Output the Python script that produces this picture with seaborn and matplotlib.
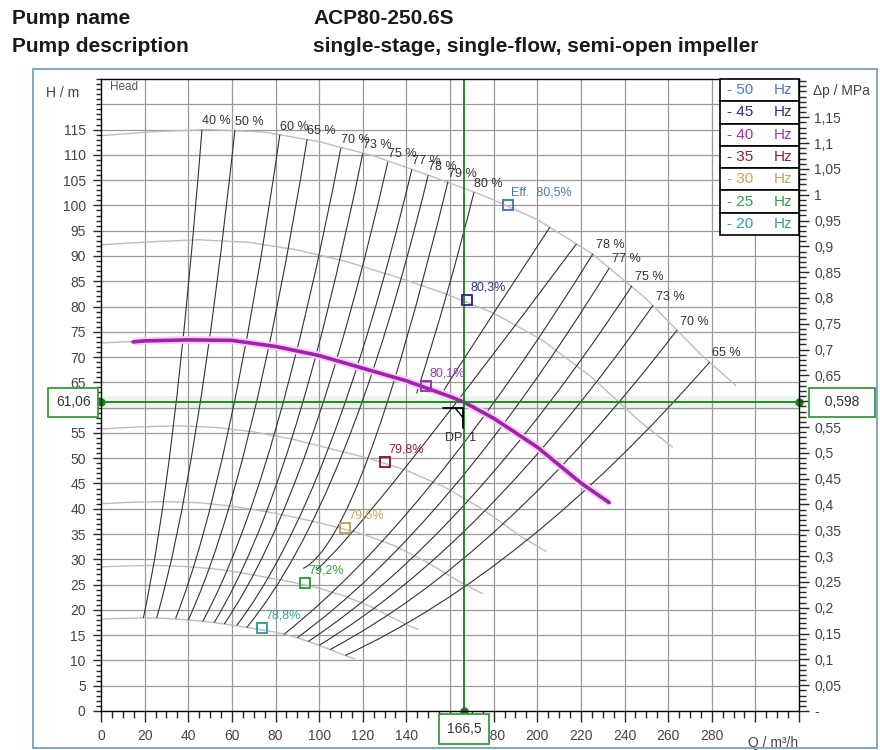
import numpy as np
import matplotlib
matplotlib.use("Agg")
import matplotlib.pyplot as plt
import seaborn as sns
from matplotlib.ticker import FixedLocator, MultipleLocator
from matplotlib.patches import Rectangle, PathPatch
from matplotlib.path import Path

sns.set_theme(style="white")
plt.rcParams["font.family"] = ["Liberation Sans", "DejaVu Sans"]

# ---------------- data ----------------
pump_name = "ACP80-250.6S"
pump_description = "single-stage, single-flow, semi-open impeller"

freq_labels = ["50", "45", "40", "35", "30", "25", "20"]
freq_colors = ["#4f7bb5", "#30308c", "#9638aa", "#8e2035", "#c2a458", "#33a044", "#33a09a"]

# H(Q) curves per frequency (Q in m3/h, H in m)
q_50 = [0, 25, 50, 75, 100, 125, 150, 175, 200, 225, 250, 275, 291]
h_50 = [113.8, 114.6, 115.0, 114.5, 112.6, 109.8, 106.0, 102.0, 97.2, 90.5, 81.5, 70.5, 64.4]
q_45 = [0, 22.5, 45, 67.5, 90, 112.5, 135, 157.5, 180, 202.5, 225, 247.5, 262]
h_45 = [92.2, 92.8, 93.2, 92.7, 91.2, 88.9, 85.9, 82.6, 78.7, 73.3, 66.0, 57.1, 52.2]
q_40 = [0, 20, 40, 60, 80, 100, 120, 140, 160, 180, 200, 220, 233]
h_40 = [72.8, 73.2, 73.4, 73.3, 72.1, 70.3, 67.8, 65.3, 62.2, 57.9, 52.2, 45.1, 41.2]
q_35 = [0, 17.5, 35, 52.5, 70, 87.5, 105, 122.5, 140, 157.5, 175, 192.5, 204]
h_35 = [55.8, 56.2, 56.4, 56.1, 55.2, 53.8, 51.9, 50.0, 47.6, 44.3, 39.9, 34.5, 31.6]
q_30 = [0, 15, 30, 45, 60, 75, 90, 105, 120, 135, 150, 165, 175]
h_30 = [41.0, 41.3, 41.4, 41.2, 40.5, 39.5, 38.2, 36.7, 35.0, 32.6, 29.3, 25.4, 23.2]
q_25 = [0, 12.5, 25, 37.5, 50, 62.5, 75, 87.5, 100, 112.5, 125, 137.5, 145.5]
h_25 = [28.5, 28.7, 28.8, 28.6, 28.2, 27.5, 26.5, 25.5, 24.3, 22.6, 20.4, 17.6, 16.1]
q_20 = [0, 10, 20, 30, 40, 50, 60, 70, 80, 90, 100, 110, 116.4]
h_20 = [18.2, 18.3, 18.4, 18.3, 18.0, 17.6, 17.0, 16.3, 15.6, 14.5, 13.0, 11.3, 10.3]

# operating (highlighted) curve
op_curve_q = [14.7, 20, 40, 60, 80, 100, 120, 140, 160, 166.5, 180, 200, 220, 233]
op_curve_h = [73.0, 73.2, 73.4, 73.3, 72.1, 70.3, 67.8, 65.3, 62.2, 61.06, 57.9, 52.2, 45.1, 41.2]

# best efficiency points per frequency
bep_q = [186.5, 167.7, 149.0, 130.0, 111.8, 93.5, 73.9]
bep_h = [100.0, 81.2, 64.2, 49.3, 36.2, 25.3, 16.4]
bep_labels = ["Eff.  80,5%", "80,3%", "80,1%", "79,8%", "79,6%", "79,2%", "78,8%"]

# iso-efficiency lines, left branch (top, middle, bottom)
iso_left_labels = ["40 %", "50 %", "60 %", "65 %", "70 %", "73 %", "75 %", "77 %", "78 %", "79 %", "80 %"]
iso_left_q = [[46.3, 33.2, 19.4], [61.4, 43.8, 25.5], [82.0, 58.6, 34.2], [94.5, 68.1, 40.0],
              [110.0, 79.3, 46.6], [120.0, 87.4, 51.9], [131.5, 95.5, 56.5], [142.5, 104.3, 62.2],
              [150.0, 111.0, 66.8], [159.0, 122.4, 92.7], [171.0, 158.5, 144.7]]
iso_left_h = [[115.0, 56.4, 18.4], [114.9, 56.3, 18.4], [114.0, 55.8, 18.3], [113.1, 55.3, 18.0],
              [111.4, 54.5, 17.7], [110.3, 53.8, 17.5], [108.6, 52.9, 17.2], [107.1, 52.0, 16.9],
              [106.0, 51.2, 16.5], [104.6, 50.0, 28.2], [102.6, 82.4, 62.8]]
# iso-efficiency lines, right branch (top, middle, bottom)
iso_right_labels = ["", "", "78 %", "77 %", "75 %", "73 %", "70 %", "65 %"]
iso_right_q = [[205.8, 166.0, 156.5], [218.0, 138.9, 99.0], [225.5, 152.3, 84.0], [233.0, 160.3, 90.0],
               [243.4, 168.3, 95.0], [253.0, 176.0, 100.0], [264.0, 184.3, 105.0], [279.0, 195.3, 112.0]]
iso_right_h = [[95.7, 69.4, 62.8], [92.4, 47.8, 28.0], [90.4, 45.3, 15.2], [87.6, 43.6, 14.5],
               [84.1, 41.6, 13.75], [80.2, 39.6, 13.0], [75.3, 37.0, 12.15], [69.0, 33.8, 11.0]]

# operating point
op_q = 166.5
op_h = 61.06
op_dp = 0.598

x_ticks = [0, 20, 40, 60, 80, 100, 120, 140, 160, 180, 200, 220, 240, 260, 280]
y_ticks = [0, 5, 10, 15, 20, 25, 30, 35, 40, 45, 50, 55, 60, 65, 70, 75, 80, 85, 90, 95, 100, 105, 110, 115]
dp_ticks = [0.05, 0.1, 0.15, 0.2, 0.25, 0.3, 0.35, 0.4, 0.45, 0.5, 0.55, 0.6, 0.65, 0.7, 0.75,
            0.8, 0.85, 0.9, 0.95, 1.0, 1.05, 1.1, 1.15]

curves_q = [q_50, q_45, q_40, q_35, q_30, q_25, q_20]
curves_h = [h_50, h_45, h_40, h_35, h_30, h_25, h_20]

# ---------------- figure ----------------
W, H = 880, 750
fig = plt.figure(figsize=(W / 100, H / 100), dpi=100)
fig.patch.set_facecolor("white")

px = lambda x: x / W
py = lambda y: 1 - y / H

# header
hdr = dict(fontsize=15, fontweight="bold", color="#1a1a1a", va="center", ha="left")
fig.text(px(12), py(18), "Pump name", **hdr)
fig.text(px(313), py(18), pump_name, **hdr)
fig.text(px(12), py(46), "Pump description", **hdr)
fig.text(px(313), py(46), pump_description, **hdr)

# outer frame
fig.add_artist(Rectangle((px(33), py(748)), px(877) - px(33), py(69) - py(748),
                         transform=fig.transFigure, fill=False, edgecolor="#7fa7c6", lw=1.4))

ax = fig.add_axes([px(101), py(711), px(799) - px(101), py(79) - py(711)])
ax.set_xlim(0, 320)
ax.set_ylim(0, 125)
ax.set_facecolor("white")
conv = op_dp / op_h

# grid
for g in x_ticks[1:] + [300]:
    ax.axvline(g, color="#999999", lw=0.9, zorder=0.5)
for g in y_ticks[1:] + [120]:
    ax.axhline(g, color="#999999", lw=0.9, zorder=0.5)

# highlight band along the operating head
ax.axhspan(op_h - 1.5, op_h + 1.2, color="#e8f7e8", zorder=0.3, lw=0)

# H(Q) curves
for cq, ch in zip(curves_q, curves_h):
    sns.lineplot(x=cq, y=ch, ax=ax, color="#bdbdbd", lw=1.0, sort=False, estimator=None, zorder=1)

# iso efficiency lines (smooth curve through top, middle and bottom readings)
for qs, hs in zip(iso_left_q + iso_right_q, iso_left_h + iso_right_h):
    p0 = np.array([qs[0], hs[0]])
    p1 = np.array([qs[1], hs[1]])
    p2 = np.array([qs[2], hs[2]])
    ctrl = 2 * p1 - 0.5 * (p0 + p2)
    path = Path([p0, ctrl, p2], [Path.MOVETO, Path.CURVE3, Path.CURVE3])
    ax.add_patch(PathPatch(path, fill=False, edgecolor="#333333", lw=0.8, zorder=2))

for lab, qs, hs in zip(iso_left_labels, iso_left_q, iso_left_h):
    ax.annotate(lab, (qs[0], hs[0]), xytext=(0, 1.5), textcoords="offset points",
                fontsize=9, color="#333333", ha="left", va="bottom", zorder=6)
for lab, qs, hs in zip(iso_right_labels, iso_right_q, iso_right_h):
    if lab:
        ax.annotate(lab, (qs[0], hs[0]), xytext=(2, 2), textcoords="offset points",
                    fontsize=9, color="#333333", ha="left", va="bottom", zorder=6)

# operating curve
ax.plot(op_curve_q, op_curve_h, color="#f5d2f2", lw=5.5, solid_capstyle="butt", zorder=3)
sns.lineplot(x=op_curve_q, y=op_curve_h, ax=ax, color="#a21fb0", lw=2.6, sort=False,
             estimator=None, zorder=4)

# BEP markers
for q, h_, lab, c in zip(bep_q, bep_h, bep_labels, freq_colors):
    ax.plot([q], [h_], marker="s", ms=7, mfc="none", mec=c, mew=1.4, zorder=7)
    ax.annotate(lab, (q, h_), xytext=(2.5, 9), textcoords="offset points", fontsize=9,
                color=c, ha="left", va="center", zorder=7)

# operating point lines
green = "#1d7d1d"
ax.axvline(op_q, color=green, lw=1.3, zorder=5)
ax.axhline(op_h, color=green, lw=1.3, zorder=5)
ax.plot([0, 320], [op_h, op_h], "o", color=green, ms=5, clip_on=False, zorder=8)
ax.plot([op_q], [0], "o", color=green, ms=5, clip_on=False, zorder=8)

# DP flag
ax.plot([op_q - 9.5, op_q - 0.6, op_q - 0.6], [op_h - 1.2, op_h - 1.2, op_h - 5.0],
        color="black", lw=1.3, zorder=6)
ax.plot([op_q - 4.0, op_q - 0.6], [op_h - 1.2, op_h - 3.0], color="black", lw=1.0, zorder=6)
ax.annotate("DP  1", (op_q, op_h), xytext=(-14, -26), textcoords="offset points",
            fontsize=9, color="#333333", ha="left", va="center", zorder=6)

# legend table
lx0 = (720 - 101) / 698
row_h = (235 - 79) / 632 / 7
for i, (f, c) in enumerate(zip(freq_labels, freq_colors)):
    y0 = 1 - (i + 1) * row_h
    ax.add_patch(Rectangle((lx0, y0), 1 - lx0, row_h, transform=ax.transAxes,
                           facecolor="white", edgecolor="black", lw=1.2, zorder=20, clip_on=False))
    ax.text(lx0 + 0.01, y0 + row_h / 2, "- " + f, transform=ax.transAxes, color=c,
            fontsize=11, ha="left", va="center", zorder=21)
    ax.text(lx0 + 0.077, y0 + row_h / 2, "Hz", transform=ax.transAxes, color=c,
            fontsize=11, ha="left", va="center", zorder=21)

# axes styling
for s in ax.spines.values():
    s.set_color("black")
    s.set_linewidth(1.0)
    s.set_zorder(9)

ax.xaxis.set_major_locator(FixedLocator(x_ticks + [300, 320]))
ax.set_xticklabels(["" if t == 160 else str(t) for t in x_ticks] + ["", ""])
ax.xaxis.set_minor_locator(MultipleLocator(5))
ax.yaxis.set_major_locator(FixedLocator(y_ticks))
ax.set_yticklabels(["" if t == 60 else str(t) for t in y_ticks])
ax.yaxis.set_minor_locator(MultipleLocator(1))
ax.tick_params(axis="x", which="major", direction="out", length=8, width=1, pad=5,
               labelsize=10, labelcolor="#444444", bottom=True)
ax.tick_params(axis="x", which="minor", direction="out", length=5, width=1, bottom=True)
ax.tick_params(axis="y", which="major", direction="out", length=6, width=1, pad=5,
               labelsize=10, labelcolor="#444444", left=True)
ax.tick_params(axis="y", which="minor", direction="out", length=3.5, width=1, left=True)

ax2 = ax.twinx()
ax2.set_ylim(0, 125 * conv)
ax2.yaxis.set_major_locator(FixedLocator([0] + dp_ticks))
ax2.set_yticklabels(["-"] + ["" if abs(t - 0.6) < 1e-9 else f"{t:g}".replace(".", ",") for t in dp_ticks])
ax2.yaxis.set_minor_locator(MultipleLocator(0.01))
ax2.tick_params(axis="y", which="major", direction="out", length=7, width=1, pad=4,
                labelsize=10, labelcolor="#444444", right=True)
ax2.tick_params(axis="y", which="minor", direction="out", length=5, width=1, right=True)
ax2.grid(False)
for s in ax2.spines.values():
    s.set_visible(False)

# axis captions
ax.annotate("H / m", (0, 122.3), xytext=(-16, 0), textcoords="offset points", ha="right",
            va="center", fontsize=10, color="#444444", annotation_clip=False)
ax.text(4, 123.4, "Head", fontsize=8.5, color="#555555", ha="left", va="center")
ax2.annotate("\u0394p / MPa", (1.0, 122.6 * conv), xycoords=("axes fraction", "data"),
             xytext=(10, 0), textcoords="offset points", ha="left", va="center",
             fontsize=10, color="#444444", annotation_clip=False)
ax.annotate("Q / m\u00b3/h", (308, 0), xytext=(0, -18), textcoords="offset points",
            ha="center", va="top", fontsize=10, color="#444444", annotation_clip=False)

# value boxes
box = dict(boxstyle="square,pad=0.55", facecolor="white", edgecolor="#3a9a3a", lw=1.3)
ax.annotate("61,06", (0, op_h), xytext=(-20, 0), textcoords="offset points", ha="center",
            va="center", fontsize=10, color="#333333", bbox=box, annotation_clip=False, zorder=30)
ax.annotate("166,5", (op_q, 0), xytext=(0, -13), textcoords="offset points", ha="center",
            va="center", fontsize=10, color="#333333", bbox=box, annotation_clip=False, zorder=30)
ax2.annotate("  0,598  ", (1.0, op_dp), xycoords=("axes fraction", "data"), xytext=(31, 0),
             textcoords="offset points", ha="center", va="center", fontsize=10, color="#333333",
             bbox=box, annotation_clip=False, zorder=30)

fig.savefig("out.png", dpi=100, facecolor="white")
